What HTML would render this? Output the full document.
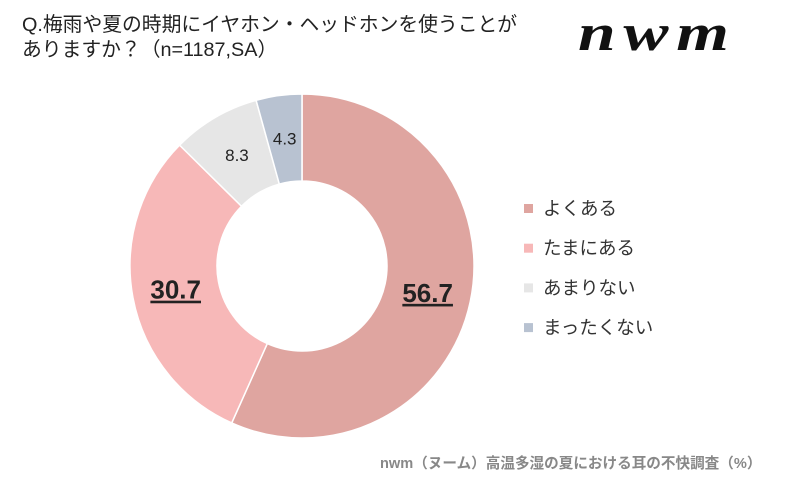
<!DOCTYPE html>
<html><head><meta charset="utf-8"><style>
body{margin:0;background:#fff;font-family:"Liberation Sans","Noto Sans CJK JP",sans-serif;}
#wrap{position:relative;width:800px;height:484px;overflow:hidden;}
.t{position:absolute;color:#222;}
</style></head><body>
<div id="wrap">
<div class="t" style="left:22px;top:13px;font-size:19.8px;line-height:25px;">Q.梅雨や夏の時期にイヤホン・ヘッドホンを使うことが<br>ありますか？（n=1187,SA）</div>
<div class="t" style="left:578px;top:4px;font-family:'Liberation Serif',serif;font-style:italic;font-weight:bold;font-size:52px;letter-spacing:6px;color:#111;transform:scaleX(1.3);transform-origin:left top;">nwm</div>
<svg id="svg" width="800" height="484" style="position:absolute;left:0;top:0"></svg>
<div class="t" style="left:380px;top:452px;font-size:14.6px;color:#888;font-weight:bold;">nwm（ヌーム）高温多湿の夏における耳の不快調査（%）</div>
</div>
<script>
const categories=["よくある","たまにある","あまりない","まったくない"];
const values=[56.7,30.7,8.3,4.3];
const colors=["#dfa5a0","#f7b8b8","#e6e6e6","#b8c2d1"];
const svg=document.getElementById('svg');const NS="http://www.w3.org/2000/svg";
const cx=302,cy=266,R=172,r=85;
const total=values.reduce((a,b)=>a+b,0);
function pt(rad,a){return [cx+rad*Math.sin(a),cy-rad*Math.cos(a)];}
let acc=0;
values.forEach((v,i)=>{
 const a0=acc/total*2*Math.PI;acc+=v;const a1=acc/total*2*Math.PI;
 const lg=(a1-a0)>Math.PI?1:0;
 const [x0,y0]=pt(R,a0),[x1,y1]=pt(R,a1),[x2,y2]=pt(r,a1),[x3,y3]=pt(r,a0);
 const p=document.createElementNS(NS,'path');
 p.setAttribute('d',`M${x0},${y0}A${R},${R} 0 ${lg} 1 ${x1},${y1}L${x2},${y2}A${r},${r} 0 ${lg} 0 ${x3},${y3}Z`);
 p.setAttribute('fill',colors[i]);p.setAttribute('stroke','#fff');p.setAttribute('stroke-width','1.5');
 
 
 svg.appendChild(p);
 const am=(a0+a1)/2;const [lx,ly]=pt((R+r)/2,am);
 const big=v>20;
 const t=document.createElementNS(NS,'text');
 t.setAttribute('x',lx);t.setAttribute('y',ly+(big?9:6));t.setAttribute('text-anchor','middle');
 t.setAttribute('font-size',big?'26':'17');if(big){t.setAttribute('font-weight','bold');t.setAttribute('text-decoration','underline');}
 t.setAttribute('fill','#222');t.textContent=v.toFixed(1);
 
 
 svg.appendChild(t);
 const ly2=208+i*39.7;
 const s=document.createElementNS(NS,'rect');
 s.setAttribute('x',524);s.setAttribute('y',ly2-4);s.setAttribute('width',9);s.setAttribute('height',9);s.setAttribute('fill',colors[i]);
 
 
 svg.appendChild(s);
 const lt=document.createElementNS(NS,'text');
 lt.setAttribute('x',543);lt.setAttribute('y',ly2+7);lt.setAttribute('font-size','18.5');lt.setAttribute('fill','#333');
 lt.textContent=categories[i];
 
 
 svg.appendChild(lt);
});
</script>
</body></html>
